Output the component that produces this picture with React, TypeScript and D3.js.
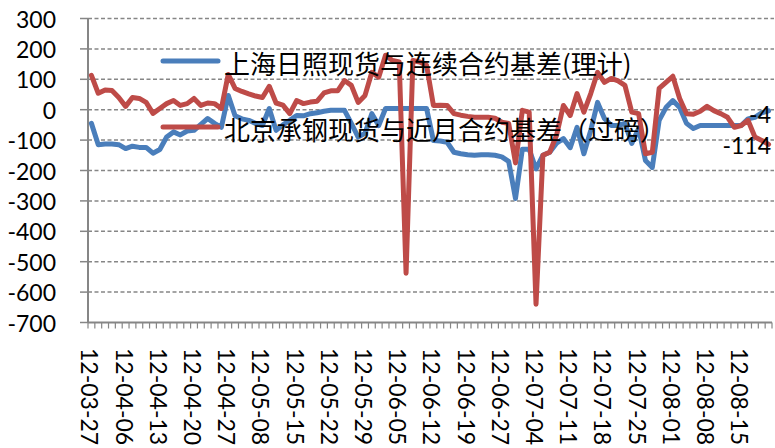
import React from 'react';
import * as d3 from 'd3';

// x-axis tick labels (one every 5 trading days)
const tickLabels = [
  '12-03-27', '12-04-06', '12-04-13', '12-04-20', '12-04-27',
  '12-05-08', '12-05-15', '12-05-22', '12-05-29', '12-06-05',
  '12-06-12', '12-06-19', '12-06-27', '12-07-04', '12-07-11',
  '12-07-18', '12-07-25', '12-08-01', '12-08-08', '12-08-15',
];
const labelEvery = 5;

const yTicks = [300, 200, 100, 0, -100, -200, -300, -400, -500, -600, -700];

const seriesNames = ['上海日照现货与连续合约基差(理计)', '北京承钢现货与近月合约基差（过磅）'];

const shanghai = [
  -45, -115, -113, -113, -115, -128, -120, -124, -124, -143,
  -131, -90, -73, -83, -70, -68, -48, -29, -45, -58,
  47, -20, -30, -35, -45, -52, 4, -68, -50, -35,
  -19, -20, -13, -10, -5, -2, -2, -2, -45, -90,
  -78, -13, -52, 4, 4, 4, 4, 4, 4, 4,
  -101, -103, -107, -140, -145, -148, -150, -148, -148, -150,
  -155, -170, -292, -130, -130, -195, -150, -140, -110, -95,
  -125, -58, -145, -68, 24, -29, -52, -52, -45, -111,
  -62, -167, -190, -35, 7, 30, 7, -45, -62, -52,
  -52, -52, -52, -52, -52, -52, -30, -25, -10, -4,
];

const beijing = [
  113, 54, 65, 63, 40, 11, 40, 37, 24, -12,
  4, 20, 30, 14, 20, 37, 14, 22, 20, 4,
  116, 70, 60, 52, 45, 40, 77, 22, 15, -13,
  30, 20, 25, 28, 55, 62, 62, 96, 80, 24,
  47, 123, 107, 179, 162, 157, -538, 162, 157, 146,
  14, 15, 14, -13, -18, -22, -25, -25, -25, -28,
  -41, -45, -175, -2, -8, -640, -150, -140, -84, 14,
  -19, 53, -8, 53, 123, 90, 103, 95, 80, -8,
  -13, -145, -140, 70, 90, 110, 37, -13, -15, -5,
  11, -3, -13, -25, -58, -52, -35, -90, -101, -114,
];

const colors = ['#4A7EBB', '#BE4B48'];

export default function App() {
  const W = 775, H = 448;
  const left = 88, right = 772, top = 18.5, bottom = 322.5;
  const n = shanghai.length;
  const categories = d3.range(n);
  const x = d3.scaleBand<number>().domain(categories).range([left, right]).padding(0);
  const y = d3.scaleLinear().domain([-700, 300]).range([bottom, top]);
  const cx = (i: number) => (x(i) as number) + x.bandwidth() / 2;
  const line = d3.line<number>().x((_, i) => cx(i)).y((d) => y(d));
  const numFont = 'Lato, "Liberation Sans", sans-serif';
  const cjkFont = '"Noto Sans CJK SC", sans-serif';
  const axisColor = '#868686';
  const series = [shanghai, beijing];

  return (
    <svg width={W} height={H} style={{ position: 'absolute', left: 0, top: 0, background: '#fff' }}>
      <rect x={0} y={0} width={W} height={H} fill="#fff" />
      {/* gridlines */}
      {yTicks.filter((t) => t !== -700).map((t) => (
        <line key={'g' + t} x1={left} x2={right + 2} y1={y(t)} y2={y(t)}
          stroke="#868686" strokeWidth={1.5} strokeDasharray="4,2.5" />
      ))}
      {/* y ticks + labels */}
      {yTicks.map((t) => (
        <g key={'y' + t}>
          <line x1={left - 8} x2={left} y1={y(t)} y2={y(t)} stroke={axisColor} strokeWidth={1.5} />
          <text x={56} y={y(t)} textAnchor="end" dominantBaseline="central"
            fontFamily={numFont} fontSize={23} fill="#000">{t}</text>
        </g>
      ))}
      {/* x ticks */}
      {d3.range(n + 1).map((i) => {
        const xx = left + i * x.bandwidth();
        return <line key={'xt' + i} x1={xx} x2={xx} y1={bottom} y2={bottom + 6} stroke={axisColor} strokeWidth={1.2} />;
      })}
      {/* axes */}
      <line x1={left} x2={left} y1={top} y2={bottom} stroke={axisColor} strokeWidth={2} />
      <line x1={left} x2={right} y1={bottom} y2={bottom} stroke={axisColor} strokeWidth={2} />
      {/* x labels */}
      {tickLabels.map((lab, k) => {
        const xx = cx(k * labelEvery) - 1;
        const yy = 348;
        return (
          <text key={'xl' + k} x={xx} y={yy} transform={`rotate(90, ${xx}, ${yy})`}
            textAnchor="start" dominantBaseline="central" fontFamily={numFont} fontSize={23} fill="#000">{lab}</text>
        );
      })}
      {/* series */}
      {series.map((s, k) => (
        <path key={'s' + k} d={line(s) as string} fill="none" stroke={colors[k]} strokeWidth={5}
          strokeLinejoin="round" strokeLinecap="round" />
      ))}
      {/* end labels */}
      {series.map((s, k) => (
        <text key={'dl' + k} x={771} y={y(s[n - 1]) + (k === 0 ? 3 : 1)} textAnchor="end" dominantBaseline="central"
          fontFamily={numFont} fontSize={23} fill="#000">{s[n - 1]}</text>
      ))}
      {/* legend */}
      {seriesNames.map((name, k) => {
        const ly = k === 0 ? 61 : 127;
        return (
          <g key={'lg' + k}>
            <line x1={163} x2={218} y1={ly} y2={ly} stroke={colors[k]} strokeWidth={5} strokeLinecap="round" />
            <text x={224} y={ly + 1} dominantBaseline="central" fontFamily={cjkFont} fontSize={26} fill="#000">{name}</text>
          </g>
        );
      })}
    </svg>
  );
}
